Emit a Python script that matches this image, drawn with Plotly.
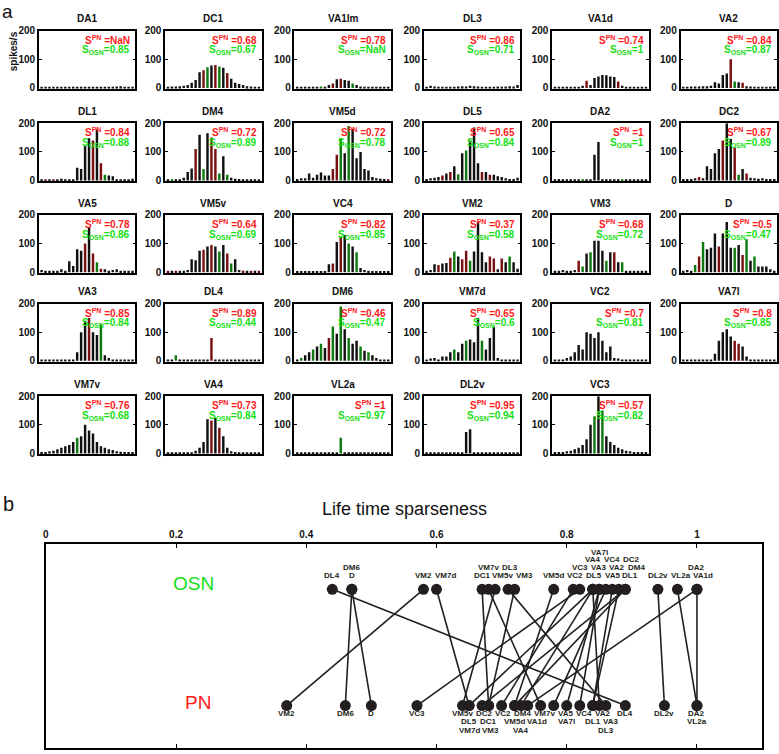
import plotly.graph_objects as go

W, H = 779, 754

glomeruli = ["DA1", "DC1", "VA1lm", "DL3", "VA1d", "VA2",
             "DL1", "DM4", "VM5d", "DL5", "DA2", "DC2",
             "VA5", "VM5v", "VC4", "VM2", "VM3", "D",
             "VA3", "DL4", "DM6", "VM7d", "VC2", "VA7l",
             "VM7v", "VA4", "VL2a", "DL2v", "VC3"]
s_pn = [None, 0.68, 0.78, 0.86, 0.74, 0.84,
        0.84, 0.72, 0.72, 0.65, 1, 0.67,
        0.78, 0.64, 0.82, 0.37, 0.68, 0.5,
        0.85, 0.89, 0.46, 0.65, 0.7, 0.8,
        0.76, 0.73, 1, 0.95, 0.57]
s_osn = [0.85, 0.67, None, 0.71, 1, 0.87,
         0.88, 0.89, 0.78, 0.84, 1, 0.89,
         0.86, 0.69, 0.85, 0.58, 0.72, 0.47,
         0.84, 0.44, 0.47, 0.6, 0.81, 0.85,
         0.68, 0.84, 0.97, 0.94, 0.82]

# response histograms (spikes/s), 24 bins per glomerulus, with bar category codes
h_DA1 = [4, 4, 4, 4, 3, 4, 4, 3, 4, 4, 4, 3, 4, 4, 4, 4, 4, 4, 4, 5, 6, 4, 4, 4]
c_DA1 = "kkkkkkkkkkkkkkkkkkkkkkkk"
h_DC1 = [4, 5, 5, 6, 8, 10, 18, 28, 55, 62, 72, 78, 80, 75, 70, 52, 32, 18, 14, 10, 6, 5, 4, 4]
c_DC1 = "kkkkkkkkkrgkrgkrkkkkkkkk"
h_VA1lm = [4, 4, 4, 4, 4, 3, 5, 4, 10, 15, 30, 32, 28, 25, 15, 10, 5, 4, 4, 4, 3, 4, 4, 4]
c_VA1lm = "kkkkkkgkkrkrkkgkkkkkkkkk"
h_DL3 = [4, 8, 5, 4, 4, 4, 4, 4, 5, 6, 5, 8, 6, 5, 4, 4, 4, 4, 5, 4, 5, 6, 5, 10]
c_DL3 = "kkkkkkkkkkkkkkkkkkkkkkkk"
h_VA1d = [4, 4, 4, 4, 4, 4, 4, 8, 25, 10, 35, 40, 45, 44, 40, 38, 22, 8, 4, 4, 4, 4, 4, 4]
c_VA1d = "kkkkkkkkrkkkkkkkrkkkkkkk"
h_VA2 = [4, 4, 5, 5, 5, 6, 6, 8, 20, 15, 45, 50, 100, 22, 20, 18, 6, 5, 4, 4, 4, 4, 4, 5]
c_VA2 = "kkkkkkkkkkkkrgkrkkkkkkkk"
h_DL1 = [4, 4, 4, 4, 4, 6, 4, 4, 4, 45, 40, 120, 148, 140, 178, 60, 20, 18, 15, 4, 4, 4, 4, 6]
c_DL1 = "krkrkkkkkkkkkrkrgkkkkkkk"
h_DM4 = [4, 4, 4, 4, 10, 30, 42, 110, 160, 40, 165, 150, 110, 25, 85, 20, 10, 6, 5, 4, 4, 4, 4, 4]
c_DM4 = "kgkkkkkrkgkrrgkgkkkkkkkk"
h_VM5d = [5, 8, 8, 25, 10, 20, 28, 18, 18, 40, 90, 148, 95, 190, 180, 78, 100, 40, 35, 12, 8, 6, 5, 4]
c_VM5d = "kkkkkkkkkrrgkgkkkkkkkkkr"
h_DL5 = [5, 8, 10, 12, 18, 25, 30, 50, 22, 95, 105, 140, 185, 60, 30, 30, 20, 20, 15, 12, 8, 5, 5, 10]
c_DL5 = "kkkkrkrkgkgkkkrkrkkkkkkk"
h_DA2 = [4, 5, 4, 4, 4, 4, 4, 3, 4, 4, 90, 135, 4, 4, 4, 4, 4, 3, 4, 4, 4, 4, 4, 4]
c_DA2 = "kkkkkkkgkkkkkkkkkgkkkkkk"
h_DC2 = [5, 5, 5, 8, 12, 8, 50, 40, 95, 110, 140, 200, 145, 115, 20, 40, 25, 10, 8, 6, 8, 5, 5, 5]
c_DC2 = "kkkkrkkkkkrkkrgkrkkkkkkk"
h_VA5 = [8, 5, 5, 5, 5, 10, 5, 38, 22, 80, 75, 100, 155, 65, 35, 12, 10, 5, 8, 10, 5, 5, 5, 5]
c_VA5 = "kkkkkkkkkkkrkrgrkkkkkkkk"
h_VM5v = [5, 5, 5, 5, 5, 8, 45, 42, 75, 78, 90, 95, 90, 72, 95, 65, 30, 45, 8, 6, 5, 5, 5, 5]
c_VM5v = "rkrkkkkkkrkrkgkrgkkrkrkr"
h_VC4 = [4, 4, 4, 4, 4, 4, 4, 4, 28, 30, 105, 125, 130, 100, 90, 70, 15, 8, 5, 4, 4, 4, 4, 4]
c_VC4 = "kkkkkkkkkrkrkgkgkkkkkkkk"
h_VM2 = [5, 8, 28, 25, 30, 32, 50, 72, 55, 45, 75, 40, 72, 175, 70, 35, 55, 48, 10, 48, 35, 55, 35, 12]
c_VM2 = "kkkrkkrgkrrgkkkkrrkrkgkk"
h_VM3 = [5, 5, 8, 5, 5, 8, 40, 20, 65, 70, 110, 110, 75, 40, 70, 70, 35, 35, 5, 5, 5, 5, 5, 5]
c_VM3 = "kkkkkkrgkgkkkgkrkgkkkkkk"
h_D = [5, 8, 5, 25, 55, 105, 80, 85, 135, 90, 135, 175, 85, 85, 95, 60, 115, 40, 55, 20, 20, 20, 10, 5]
c_D = "kkkgrgkkkrkkkgkrgkgkkkkk"
h_VA3 = [4, 4, 4, 4, 4, 4, 4, 4, 5, 30, 100, 140, 150, 100, 90, 130, 20, 10, 5, 4, 4, 4, 4, 4]
c_VA3 = "kkkkkkkkkkkkrkkgkkkkkkkk"
h_DL4 = [4, 4, 20, 4, 4, 4, 4, 4, 4, 4, 4, 80, 4, 4, 4, 4, 4, 4, 4, 4, 4, 4, 4, 4]
c_DL4 = "kkgkkkkkkkkrkkkkkkkkkkkk"
h_DM6 = [5, 10, 20, 30, 40, 50, 60, 45, 80, 120, 95, 190, 110, 80, 60, 70, 50, 35, 30, 20, 10, 5, 5, 5]
c_DM6 = "kgkkgkgkrgkgkgkkgkgkkkkk"
h_VM7d = [5, 8, 10, 5, 15, 15, 30, 40, 30, 60, 70, 75, 65, 150, 70, 40, 80, 120, 10, 5, 5, 5, 5, 5]
c_VM7d = "kkkkkkkgkkgkkkgkkkkkkkkk"
h_VC2 = [5, 5, 5, 10, 15, 30, 55, 40, 100, 95, 80, 100, 70, 30, 50, 10, 8, 5, 5, 5, 5, 5, 5, 5]
c_VC2 = "kkkkkkkkkkkkkkkkkkkkkkkk"
h_VA7l = [4, 4, 4, 4, 4, 4, 4, 4, 25, 70, 100, 110, 85, 70, 60, 50, 15, 4, 4, 4, 4, 4, 4, 4]
c_VA7l = "kkkkkkkkkkkkkrrkkkkkkkkk"
h_VM7v = [5, 5, 8, 10, 15, 20, 25, 30, 40, 55, 60, 100, 80, 70, 40, 25, 20, 15, 12, 8, 6, 5, 5, 5]
c_VM7v = "kkkkkkkkkgkkkkkkkkkkkkkk"
h_VA4 = [4, 4, 4, 4, 4, 4, 4, 10, 20, 40, 120, 115, 125, 90, 60, 20, 8, 5, 4, 4, 4, 4, 4, 4]
c_VA4 = "kkkkkkkkkkkrkrkkkkkkkkkk"
h_VL2a = [4, 4, 4, 4, 4, 4, 4, 4, 4, 4, 4, 55, 4, 4, 4, 4, 4, 4, 4, 4, 4, 4, 4, 4]
c_VL2a = "kkkkkkkkkkkgkkkkkkkkkkkk"
h_DL2v = [4, 4, 4, 4, 4, 4, 4, 4, 4, 4, 75, 85, 4, 4, 4, 4, 4, 4, 4, 4, 4, 4, 4, 4]
c_DL2v = "kkkkkkkkkkkkkkkkkkkkkkkk"
h_VC3 = [5, 5, 5, 8, 10, 15, 20, 30, 50, 100, 130, 200, 150, 60, 40, 30, 20, 15, 10, 8, 5, 5, 5, 5]
c_VC3 = "kkkkkkkkkkgkgkkkkkkkkkkk"

hists = [h_DA1, h_DC1, h_VA1lm, h_DL3, h_VA1d, h_VA2,
         h_DL1, h_DM4, h_VM5d, h_DL5, h_DA2, h_DC2,
         h_VA5, h_VM5v, h_VC4, h_VM2, h_VM3, h_D,
         h_VA3, h_DL4, h_DM6, h_VM7d, h_VC2, h_VA7l,
         h_VM7v, h_VA4, h_VL2a, h_DL2v, h_VC3]
cats = [c_DA1, c_DC1, c_VA1lm, c_DL3, c_VA1d, c_VA2,
        c_DL1, c_DM4, c_VM5d, c_DL5, c_DA2, c_DC2,
        c_VA5, c_VM5v, c_VC4, c_VM2, c_VM3, c_D,
        c_VA3, c_DL4, c_DM6, c_VM7d, c_VC2, c_VA7l,
        c_VM7v, c_VA4, c_VL2a, c_DL2v, c_VC3]

# ---------------- styling ----------------
FONT = "Liberation Sans, Arial, sans-serif"
INK = "#231f20"
RED = "#ff1a1a"
GREEN = "#14e014"
BAR_COL = {"k": "#111111", "r": "#7a1010", "g": "#0f7a0f"}

col_left = [36, 163, 293, 423, 552, 681]
row_top = [25, 119, 212, 302, 396]
PW, PH = 97, 59

fig = go.Figure()
layout = dict(width=W, height=H, margin=dict(l=0, r=0, t=0, b=0),
              paper_bgcolor="white", plot_bgcolor="white", showlegend=False)
annotations = []


def fmt(v):
    return "NaN" if v is None else f"{v:g}"


for i, name in enumerate(glomeruli):
    r, c = divmod(i, 6)
    k = i + 1
    xa, ya = f"xaxis{k}", f"yaxis{k}"
    xr, yr = f"x{k}", f"y{k}"
    l, t = col_left[c], row_top[r]
    vals = hists[i]
    fig.add_trace(go.Bar(x=list(range(1, len(vals) + 1)), y=vals,
                         marker=dict(color=[BAR_COL[ch] for ch in cats[i]], line_width=0),
                         width=0.62, xaxis=xr, yaxis=yr, hoverinfo="skip"))
    layout[xa] = dict(domain=[l / W, (l + PW) / W], range=[0.3, len(vals) + 0.7],
                      anchor=yr, showticklabels=False, ticks="", showgrid=False,
                      zeroline=False, showline=True, mirror=True,
                      linecolor="black", linewidth=1.5)
    layout[ya] = dict(domain=[1 - (t + PH) / H, 1 - t / H], range=[-3, 200],
                      anchor=xr, tickvals=[0, 100, 200], ticks="inside", ticklen=3,
                      tickcolor="black", showgrid=False, zeroline=False,
                      showline=True, mirror="ticks", linecolor="black", linewidth=1.5,
                      tickfont=dict(family=FONT, size=10, color="#111", weight="bold"))
    annotations.append(dict(text=name, x=(l + PW / 2) / W, y=1 - (t - 12) / H,
                            xref="paper", yref="paper", showarrow=False,
                            xanchor="center", yanchor="middle",
                            font=dict(family=FONT, size=10, color="#111", weight="bold")))
    annotations.append(dict(text=f"S<sup>PN</sup> =" + fmt(s_pn[i]),
                            x=(l + PW - 3) / W, y=1 - (t + 1) / H,
                            xref="paper", yref="paper", showarrow=False,
                            xanchor="right", yanchor="top",
                            font=dict(family=FONT, size=10, color=RED, weight="bold")))
    annotations.append(dict(text=f"S<sub>OSN</sub>=" + fmt(s_osn[i]),
                            x=(l + PW - 3) / W, y=1 - (t + 12) / H,
                            xref="paper", yref="paper", showarrow=False,
                            xanchor="right", yanchor="top",
                            font=dict(family=FONT, size=10, color=GREEN, weight="bold")))

# ---------------- panel b ----------------
kb = len(glomeruli) + 1
xb, yb = f"x{kb}", f"y{kb}"
BL, BR, BT, BB = 43, 763, 546, 753
XMAX = 1.1
Y_OSN, Y_PN = 0.778, 0.208

pairs = [(g, o, p) for g, o, p in zip(glomeruli, s_osn, s_pn) if o is not None and p is not None]
lx, ly = [], []
for g, o, p in pairs:
    lx += [o, p, None]
    ly += [Y_OSN, Y_PN, None]
fig.add_trace(go.Scatter(x=lx, y=ly, mode="lines", line=dict(color=INK, width=1.6),
                         xaxis=xb, yaxis=yb, hoverinfo="skip"))
fig.add_trace(go.Scatter(x=[o for _, o, _ in pairs] + [p for _, _, p in pairs],
                         y=[Y_OSN] * len(pairs) + [Y_PN] * len(pairs),
                         mode="markers", marker=dict(color=INK, size=11),
                         xaxis=xb, yaxis=yb, hoverinfo="skip"))

layout[f"xaxis{kb}"] = dict(domain=[BL / W, BR / W], range=[0, XMAX], anchor=yb, side="top",
                            tickvals=[0, 0.2, 0.4, 0.6, 0.8, 1],
                            ticktext=["0", "0.2", "0.4", "0.6", "0.8", "1"],
                            ticks="inside", ticklen=4, tickcolor="black",
                            showgrid=False, zeroline=False, showline=True, mirror="ticks",
                            linecolor="black", linewidth=1.5,
                            tickfont=dict(family=FONT, size=10, color="#111", weight="bold"))
layout[f"yaxis{kb}"] = dict(domain=[1 - BB / H, 1 - BT / H], range=[0, 1], anchor=xb,
                            showticklabels=False, ticks="", showgrid=False, zeroline=False,
                            showline=True, mirror=True, linecolor="black", linewidth=1.5)

px_per_unit = (BR - BL) / XMAX
MAX_SHIFT = 13
GAP = 4


def label_width(name):
    return sum(3.0 if ch in "l1" else 5.4 if ch in "MDVC" else 4.6 for ch in name)


def stack_labels(items):
    """place labels in rows: pack left-to-right, shift a little sideways, else go up a row"""
    rights = []
    out = []
    for name, v in sorted(items, key=lambda t: t[1]):
        cx = v * px_per_unit
        w = label_width(name)
        a = cx - w / 2
        lev = 0
        while True:
            if lev >= len(rights):
                rights.append(-1e9)
            start = max(a, rights[lev] + GAP)
            if start - a <= MAX_SHIFT:
                rights[lev] = start + w
                out.append((name, v, lev, start - a))
                break
            lev += 1
    return out


for name, v, lev, dx in stack_labels([(g, o) for g, o, _ in pairs]):
    annotations.append(dict(text=name, x=v, y=Y_OSN, xref=xb, yref=yb, showarrow=False,
                            xanchor="center", yanchor="middle",
                            xshift=dx, yshift=14 + 7.7 * lev,
                            font=dict(family=FONT, size=8, color=INK, weight="bold")))
for name, v, lev, dx in stack_labels([(g, p) for g, _, p in pairs]):
    annotations.append(dict(text=name, x=v, y=Y_PN, xref=xb, yref=yb, showarrow=False,
                            xanchor="center", yanchor="middle",
                            xshift=dx, yshift=-8 - 8.3 * lev,
                            font=dict(family=FONT, size=8, color=INK, weight="bold")))

annotations.append(dict(text="OSN", x=0.227, y=Y_OSN, xref=xb, yref=yb, showarrow=False,
                        xanchor="center", yanchor="middle", yshift=6,
                        font=dict(family=FONT, size=19, color=GREEN)))
annotations.append(dict(text="PN", x=0.234, y=Y_PN, xref=xb, yref=yb, showarrow=False,
                        xanchor="center", yanchor="middle", yshift=3,
                        font=dict(family=FONT, size=19, color=RED)))
annotations.append(dict(text="Life time sparseness", x=404 / W, y=1 - 510 / H,
                        xref="paper", yref="paper", showarrow=False,
                        xanchor="center", yanchor="middle",
                        font=dict(family=FONT, size=18, color="#111")))
annotations.append(dict(text="spikes/s", x=10 / W, y=1 - 46 / H, xref="paper", yref="paper",
                        showarrow=False, textangle=-90, xanchor="center", yanchor="middle",
                        font=dict(family=FONT, size=10, color="#111", weight="bold")))
annotations.append(dict(text="a", x=5 / W, y=1 - 6 / H, xref="paper", yref="paper",
                        showarrow=False, xanchor="center", yanchor="middle",
                        font=dict(family=FONT, size=19, color="#111")))
annotations.append(dict(text="b", x=6 / W, y=1 - 505 / H, xref="paper", yref="paper",
                        showarrow=False, xanchor="center", yanchor="middle",
                        font=dict(family=FONT, size=20, color="#111")))

layout["annotations"] = annotations
fig.update_layout(**layout)
fig.write_html("out.html", config={"displayModeBar": False},
               post_script="document.body.style.margin='0';document.body.style.overflow='hidden';")
